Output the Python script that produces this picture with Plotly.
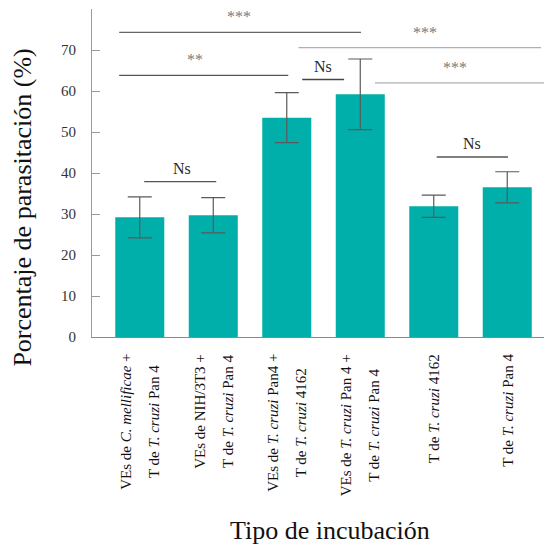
import plotly.graph_objects as go

# Parasitation percentage per incubation type (mean and error)
line1 = ["VEs de <i>C. mellificae</i> +", "VEs de NIH/3T3 +", "VEs de <i>T. cruzi</i> Pan4 +",
         "VEs de <i>T. cruzi</i> Pan 4 +", "", ""]
line2 = ["T de <i>T. cruzi</i> Pan 4", "T de <i>T. cruzi</i> Pan 4", "T de <i>T. cruzi</i> 4162",
         "T de <i>T. cruzi</i> Pan 4", "T de <i>T. cruzi</i> 4162", "T de <i>T. cruzi</i> Pan 4"]
means = [29.2, 29.7, 53.5, 59.2, 31.9, 36.5]
errors = [5.0, 4.3, 6.1, 8.6, 2.7, 3.8]

y_ticks = [0, 10, 20, 30, 40, 50, 60, 70, 80]
y_ticktext = ["0", "10", "20", "30", "40", "50", "60", "70", ""]

# significance brackets: x start, x end, level, label, line colour
sig_x0 = [-0.28, -0.28, 2.21, 2.16, 3.20, 4.04, 0.06]
sig_x1 = [3.01, 2.02, 2.78, 5.46, 5.50, 5.01, 1.04]
sig_y = [74.3, 63.8, 62.8, 70.6, 62.0, 43.9, 37.9]
sig_label = ["***", "**", "Ns", "***", "***", "Ns", "Ns"]
sig_label_x = [1.35, 0.75, 2.49, 3.88, 4.29, 4.52, 0.57]
sig_color = ["#666666", "#555555", "#444444", "#b0b0b0", "#b0b0b0", "#555555", "#555555"]

FONT = "Liberation Serif, Times New Roman, serif"
TEAL = "#00afaa"

x = list(range(len(means)))

fig = go.Figure()
fig.add_trace(go.Bar(
    x=x, y=means, width=0.667,
    marker=dict(color=TEAL, line=dict(width=0)),
    error_y=dict(type="data", array=errors, visible=True,
                 color="#5a5a5a", thickness=1.2, width=12),
    showlegend=False,
))

for x0, x1, yv, lab, lx, col in zip(sig_x0, sig_x1, sig_y, sig_label, sig_label_x, sig_color):
    fig.add_shape(type="line", xref="x", yref="y", x0=x0, x1=x1, y0=yv, y1=yv,
                  line=dict(color=col, width=1.3))
    if lab == "Ns":
        fig.add_annotation(x=lx, y=yv, xref="x", yref="y", text=lab, showarrow=False,
                           yanchor="bottom", yshift=3,
                           font=dict(family=FONT, size=16, color="#2a2a2a"))
    else:
        fig.add_annotation(x=lx, y=yv, xref="x", yref="y", text=lab, showarrow=False,
                           yanchor="bottom", yshift=5,
                           font=dict(family=FONT, size=16, color="#7a7a7a"))

# rotated category labels, two centred lines each
for i in x:
    lines = [s for s in (line1[i], line2[i]) if s]
    txt = "<br>".join('<span style="font-size:15px">%s</span>' % s for s in lines)
    fig.add_annotation(x=i, y=-0.046, xref="x", yref="paper", text=txt, showarrow=False,
                       textangle=-90, xanchor="center", yanchor="top", align="center",
                       font=dict(family=FONT, size=21.5, color="#111111"))

# axis titles
fig.add_annotation(x=-0.153, y=0.394, xref="paper", yref="paper",
                   text="Porcentaje de parasitación (%)", showarrow=False, textangle=-90,
                   xanchor="center", yanchor="middle",
                   font=dict(family=FONT, size=26, color="#111111"))
fig.add_annotation(x=0.5265, y=-0.59, xref="paper", yref="paper",
                   text="Tipo de incubación", showarrow=False,
                   xanchor="center", yanchor="middle",
                   font=dict(family=FONT, size=26, color="#111111"))

fig.update_layout(
    width=544, height=549,
    margin=dict(l=92, r=0, t=9, b=212, pad=0),
    paper_bgcolor="white", plot_bgcolor="white",
    bargap=0.333,
    xaxis=dict(range=[-0.65, 5.5], showticklabels=False, ticks="", showgrid=False,
               zeroline=False, showline=True, linecolor="#8a8a8a", linewidth=1.2,
               fixedrange=True),
    yaxis=dict(range=[0, 80], tickvals=y_ticks, ticktext=y_ticktext, ticks="inside",
               ticklen=8, tickcolor="#9a9a9a", tickwidth=1.2, showgrid=False, zeroline=False,
               showline=True, linecolor="#9a9a9a", linewidth=1.2, ticklabelstandoff=12,
               tickfont=dict(family=FONT, size=15, color="#333333"), fixedrange=True),
)

fig.write_html("out.html")
